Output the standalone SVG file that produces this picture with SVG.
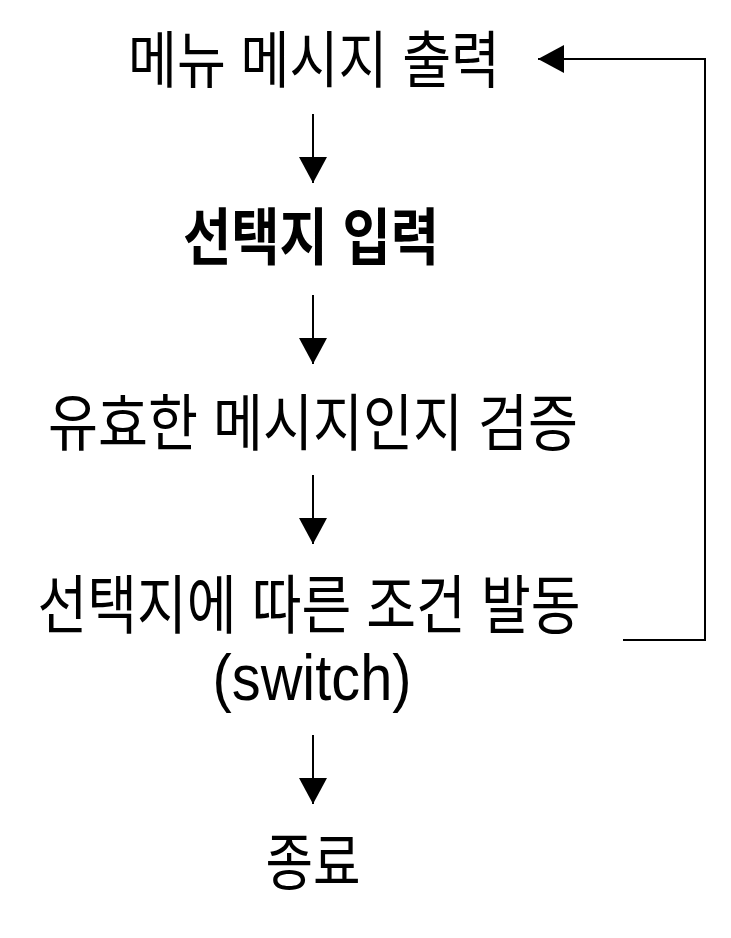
<svg xmlns="http://www.w3.org/2000/svg" width="731" height="938" viewBox="0 0 731 938">
<style>
.t{font-family:"Liberation Sans","Noto Sans CJK KR",sans-serif;font-size:62px;fill:#000;text-anchor:middle}
.b{font-weight:bold}
.c{fill:none;stroke:#000;stroke-width:2}
</style>
<defs>
<marker id="ah" markerWidth="26" markerHeight="28" refX="26" refY="14" orient="auto" markerUnits="userSpaceOnUse">
<path d="M0,0 L26,14 L0,28 Z" fill="#000"/>
</marker>
</defs>
<rect width="731" height="938" fill="#fff"/>
<g id="connectors">
<line class="c" x1="313" y1="114" x2="313" y2="183" marker-end="url(#ah)"/>
<line class="c" x1="313" y1="295" x2="313" y2="364" marker-end="url(#ah)"/>
<line class="c" x1="313" y1="475" x2="313" y2="544" marker-end="url(#ah)"/>
<line class="c" x1="313" y1="735" x2="313" y2="804" marker-end="url(#ah)"/>
<polyline class="c" points="623,640 705,640 705,59 538,59" marker-end="url(#ah)"/>
</g>
<g id="n1"><text class="t" x="314" y="83" textLength="372" lengthAdjust="spacingAndGlyphs">메뉴 메시지 출력</text></g>
<g id="n2"><text class="t b" x="311" y="260" textLength="256" lengthAdjust="spacingAndGlyphs">선택지 입력</text></g>
<g id="n3"><text class="t" x="313" y="446" textLength="530" lengthAdjust="spacingAndGlyphs">유효한 메시지인지 검증</text></g>
<g id="n4"><text class="t" x="309" y="628" textLength="543" lengthAdjust="spacingAndGlyphs" style="font-size:64px">선택지에 따른 조건 발동</text>
<text class="t" x="312" y="700" textLength="199" lengthAdjust="spacingAndGlyphs" style="font-size:64px">(switch)</text></g>
<g id="n5"><text class="t" x="313" y="885" textLength="95" lengthAdjust="spacingAndGlyphs">종료</text></g>
</svg>
